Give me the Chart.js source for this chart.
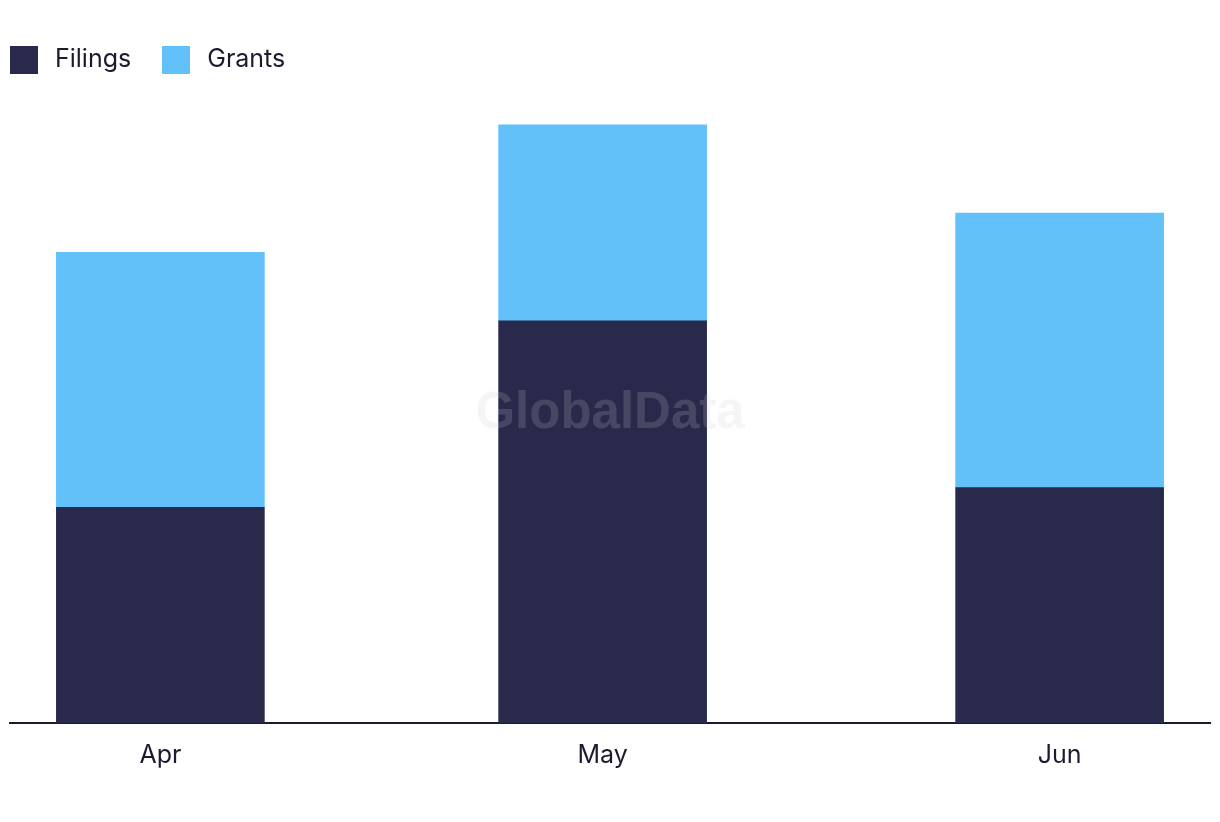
<!DOCTYPE html>
<html>
<head>
<meta charset="utf-8">
<script src="https://cdn.jsdelivr.net/npm/chart.js@4.4.1/dist/chart.umd.min.js"></script>
<style>
  html, body { margin: 0; padding: 0; background: #fff; }
  #wrap { position: relative; width: 1220px; height: 822px; }
  #legend { position: absolute; top: 46px; left: 10px; display: flex; z-index: 2;
            font-family: Inter, "Noto Sans", sans-serif; font-size: 25px; color: #1b1b2f; }
  .item { display: flex; align-items: center; margin-right: 31px; height: 28px; }
  .item span.txt { position: relative; top: -2px; }
  .box { width: 28px; height: 28px; margin-right: 17px; }
  canvas { position: absolute; top: 0; left: 0; }
</style>
</head>
<body>
<div id="wrap">
  <div id="legend"></div>
  <canvas id="patents_bar" width="1220" height="822"></canvas>
</div>
<script>
const months = ['Apr', 'May', 'Jun'];
const monthDays = [0, 30, 61]; // days since 1 Apr
const filings = [22, 41, 24];
const grants = [26, 20, 28];

const seriesNames = ['Filings', 'Grants'];
const seriesColors = ['#29294b', '#62c1f9'];

const watermark = {
  id: 'watermark',
  afterDatasetsDraw(chart) {
    const {ctx, chartArea} = chart;
    ctx.save();
    ctx.font = 'bold 51px "Liberation Sans", Arial, sans-serif';
    ctx.fillStyle = 'rgba(200, 200, 212, 0.19)';
    ctx.textAlign = 'center';
    ctx.textBaseline = 'middle';
    ctx.fillText('GlobalData', (chartArea.left + chartArea.right) / 2, 414);
    ctx.restore();
  }
};

function drawPatentsBar(el){
  if(!el) return;

  const data = {
    datasets: [
      {
        label: seriesNames[0],
        data: monthDays.map((d, i) => ({x: d, y: filings[i]})),
        backgroundColor: seriesColors[0],
      },
      {
        label: seriesNames[1],
        data: monthDays.map((d, i) => ({x: d, y: grants[i]})),
        backgroundColor: seriesColors[1],
      }
    ]
  };

  const config = {
    type: 'bar',
    data: data,
    options: {
      responsive: false,
      animation: false,
      barThickness: 208,
      layout: {
        padding: {top: 115, left: 10, right: 10, bottom: 35}
      },
      scales: {
        x: {
          type: 'linear',
          stacked: true,
          offset: false,
          min: -10.2,
          max: 71.2,
          afterBuildTicks: (scale) => {
            scale.ticks = monthDays.map(v => ({value: v}));
          },
          ticks: {
            autoSkip: false,
            maxRotation: 0,
            padding: 17,
            color: '#1b1b2f',
            font: {family: 'Inter', size: 25},
            callback: (v) => months[monthDays.indexOf(v)]
          },
          grid: {display: false, drawTicks: false, offset: false},
          border: {display: true, color: '#1b1b2f', width: 2}
        },
        y: {
          display: false,
          stacked: true,
          min: 0,
          max: 62
        }
      },
      plugins: {
        legend: {display: false},
        title: {display: false},
        tooltip: {enabled: false}
      }
    },
    plugins: [watermark]
  };

  const chart = new Chart(el, config);

  const legend = document.getElementById('legend');
  chart.data.datasets.forEach(ds => {
    const item = document.createElement('div');
    item.className = 'item';
    item.innerHTML = '<span class="box" style="background:' + ds.backgroundColor + '"></span><span class="txt">' + ds.label + '</span>';
    legend.appendChild(item);
  });
}

drawPatentsBar(document.getElementById('patents_bar'));
</script>
</body>
</html>
